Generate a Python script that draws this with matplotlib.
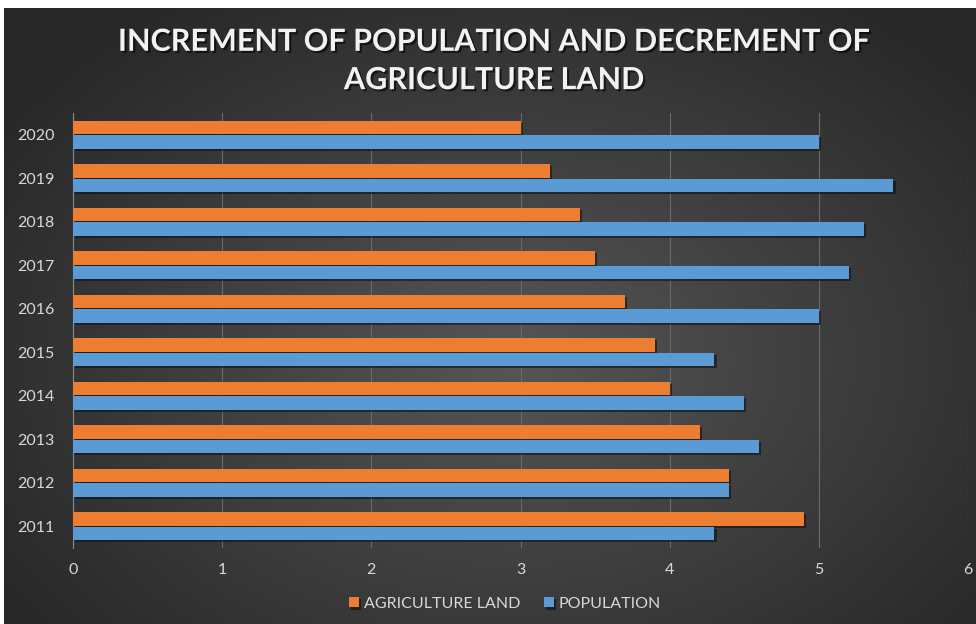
import numpy as np
import matplotlib
matplotlib.use("Agg")
import matplotlib.pyplot as plt
import matplotlib.patheffects as pe

years = ["2011", "2012", "2013", "2014", "2015", "2016", "2017", "2018", "2019", "2020"]
agriculture_land = [4.9, 4.4, 4.2, 4.0, 3.9, 3.7, 3.5, 3.4, 3.2, 3.0]
population = [4.3, 4.4, 4.6, 4.5, 4.3, 5.0, 5.2, 5.3, 5.5, 5.0]
x_ticks = [0, 1, 2, 3, 4, 5, 6]
title = "INCREMENT OF POPULATION AND DECREMENT OF\nAGRICULTURE LAND"

W, H = 976, 624
fig = plt.figure(figsize=(W / 100, H / 100), dpi=100)
fig.patch.set_facecolor("white")

# background with radial gradient
bg = fig.add_axes([4 / W, 0, 1 - 4 / W, 1 - 8 / H])
bg.set_axis_off()
yy, xx = np.mgrid[0:300, 0:480]
cx, cy = 250, 170
r = np.sqrt(((xx - cx) / 300.0) ** 2 + ((yy - cy) / 210.0) ** 2)
r = np.clip(r, 0, 1)
inner = np.array([0x56, 0x56, 0x56]) / 255.0
outer = np.array([0x28, 0x28, 0x28]) / 255.0
img = inner[None, None, :] * (1 - r[..., None]) + outer[None, None, :] * r[..., None]
bg.imshow(img, aspect="auto", extent=[0, 1, 0, 1], interpolation="bilinear")
bg.set_xlim(0, 1)
bg.set_ylim(0, 1)

ax = fig.add_axes([73 / W, 1 - 548 / H, (968 - 73) / W, (548 - 113) / H])
ax.patch.set_alpha(0)

y = np.arange(len(years))
h = 0.31
off = 0.165
orange = "#ED7D31"
blue = "#5B9BD5"
shadow = [pe.SimplePatchShadow(offset=(1.5, -1.5), shadow_rgbFace="#111111", alpha=0.6), pe.Normal()]
b1 = ax.barh(y + off, agriculture_land, height=h, color=orange, label="AGRICULTURE LAND", zorder=3)
b2 = ax.barh(y - off, population, height=h, color=blue, label="POPULATION", zorder=3)
for b in list(b1) + list(b2):
    b.set_path_effects(shadow)

ax.set_xlim(0, 6)
ax.set_ylim(-0.5, len(years) - 0.5)
ax.set_xticks(x_ticks)
ax.set_yticks(y)
ax.set_yticklabels(years)
ax.xaxis.grid(True, color="#6a6a6a", linewidth=0.8, zorder=0)
ax.set_axisbelow(True)
for s in ["top", "right", "bottom"]:
    ax.spines[s].set_visible(False)
ax.spines["left"].set_color("#8a8a8a")
ax.spines["left"].set_linewidth(0.8)
ax.tick_params(axis="both", length=0, colors="#d9d9d9", labelsize=11.5)
ax.tick_params(axis="x", pad=11)
ax.tick_params(axis="y", pad=13)
for lab in ax.get_xticklabels() + ax.get_yticklabels():
    lab.set_fontfamily("Lato")

fig.text(494 / W, 1 - 61 / H, title, ha="center", va="center", color="#f2f2f2",
         fontsize=22, fontweight="bold", family="Lato", linespacing=1.45,
         path_effects=[pe.withSimplePatchShadow(offset=(1.5, -1.5), shadow_rgbFace="#000000", alpha=0.6)])

leg = fig.legend(handles=[b1, b2], loc="center", bbox_to_anchor=(505 / W, 1 - 604 / H), ncol=2,
                 frameon=False, handlelength=0.6, handleheight=0.6, handletextpad=0.3,
                 columnspacing=1.5, prop={"family": "Lato", "size": 11.5})
for t in leg.get_texts():
    t.set_color("#d9d9d9")

fig.savefig("out.png", dpi=100)
